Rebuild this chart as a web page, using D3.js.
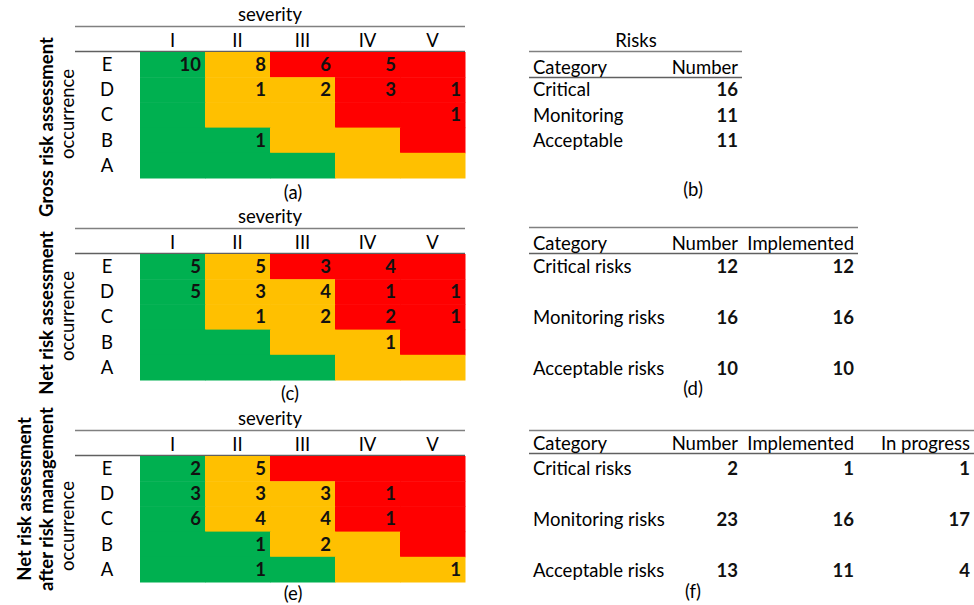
<!DOCTYPE html>
<html>
<head>
<meta charset="utf-8">
<script src="https://cdn.jsdelivr.net/npm/d3@7"></script>
<style>
  html, body { margin: 0; padding: 0; background: #fff; }
  svg { display: block; font-family: Lato, "Open Sans", sans-serif; }
</style>
</head>
<body>
<svg id="chart" width="974" height="605"></svg>
<script>
// Axis categories of the risk matrices
const severities = ["I", "II", "III", "IV", "V"];
const occurrences = ["E", "D", "C", "B", "A"];

// Risk zone of each matrix cell (rows E..A, columns I..V)
const zones = [
  ["acceptable", "monitoring", "critical",   "critical",   "critical"],
  ["acceptable", "monitoring", "monitoring", "critical",   "critical"],
  ["acceptable", "monitoring", "monitoring", "critical",   "critical"],
  ["acceptable", "acceptable", "monitoring", "monitoring", "critical"],
  ["acceptable", "acceptable", "acceptable", "monitoring", "monitoring"]
];

// Number of risks per cell (rows E..A, columns I..V)
const grossCounts = [
  [10, 8, 6, 5, null],
  [null, 1, 2, 3, 1],
  [null, null, null, null, 1],
  [null, 1, null, null, null],
  [null, null, null, null, null]
];
const netCounts = [
  [5, 5, 3, 4, null],
  [5, 3, 4, 1, 1],
  [null, 1, 2, 2, 1],
  [null, null, null, 1, null],
  [null, null, null, null, null]
];
const afterCounts = [
  [2, 5, null, null, null],
  [3, 3, 3, 1, null],
  [6, 4, 4, 1, null],
  [null, 1, 2, null, null],
  [null, 1, null, null, 1]
];

// Summary tables
const grossCategories = ["Critical", "Monitoring", "Acceptable"];
const grossNumber = [16, 11, 11];

const netCategories = ["Critical risks", "Monitoring risks", "Acceptable risks"];
const netNumber = [12, 16, 10];
const netImplemented = [12, 16, 10];

const afterCategories = ["Critical risks", "Monitoring risks", "Acceptable risks"];
const afterNumber = [2, 23, 13];
const afterImplemented = [1, 16, 11];
const afterInProgress = [1, 17, 4];

const zoneColor = d3.scaleOrdinal()
  .domain(["acceptable", "monitoring", "critical"])
  .range(["#00b050", "#ffc000", "#ff0000"]);

const svg = d3.select("#chart");
const FS = 18.5;
const ruleColor = "#808080";

const x = d3.scaleBand().domain(severities).range([140, 465]);

function drawMatrix(top, counts, caption, captionX, captionDy, titleLines, titleY, occY) {
  const y = d3.scaleBand().domain(occurrences).range([top, top + 126]);
  const g = svg.append("g");

  // header: "severity" title, rules and roman numerals
  g.append("text").attr("x", 270).attr("y", top - 37).attr("dy", "0.35em")
    .attr("text-anchor", "middle").attr("font-size", FS).text("severity");
  g.append("line").attr("x1", 75).attr("x2", 465)
    .attr("y1", top - 25.5).attr("y2", top - 25.5)
    .attr("stroke", ruleColor).attr("stroke-width", 1.5);
  g.selectAll(".sev").data(severities).join("text")
    .attr("x", d => x(d) + x.bandwidth() / 2).attr("y", top - 11).attr("dy", "0.35em")
    .attr("text-anchor", "middle").attr("font-size", FS).text(d => d);
  g.append("line").attr("x1", 75).attr("x2", 465)
    .attr("y1", top - 0.5).attr("y2", top - 0.5)
    .attr("stroke", "#606060").attr("stroke-width", 1.5);

  // row labels
  g.selectAll(".occ").data(occurrences).join("text")
    .attr("x", 107).attr("y", d => y(d) + y.bandwidth() / 2).attr("dy", "0.35em")
    .attr("text-anchor", "middle").attr("font-size", FS).text(d => d);

  // cells
  const cells = [];
  occurrences.forEach((o, i) => severities.forEach((s, j) => {
    cells.push({ o, s, zone: zones[i][j], value: counts[i][j] });
  }));
  g.selectAll("rect.cell").data(cells).join("rect")
    .attr("class", "cell")
    .attr("x", d => x(d.s)).attr("y", d => y(d.o))
    .attr("width", x.bandwidth() + 0.5).attr("height", y.bandwidth() + 0.5)
    .attr("fill", d => zoneColor(d.zone));
  g.selectAll("text.val").data(cells.filter(d => d.value != null)).join("text")
    .attr("class", "val")
    .attr("x", d => x(d.s) + x.bandwidth() - 4)
    .attr("y", d => y(d.o) + y.bandwidth() / 2).attr("dy", "0.35em")
    .attr("text-anchor", "end").attr("font-size", FS).attr("font-weight", "bold")
    .attr("fill", "#111").text(d => d.value);

  // vertical labels
  g.append("text")
    .attr("transform", `translate(68,${occY}) rotate(-90)`)
    .attr("dy", "0.35em").attr("text-anchor", "middle").attr("font-size", FS)
    .text("occurrence");
  const n = titleLines.length;
  titleLines.forEach((t, k) => {
    const tx = n === 1 ? 47 : 25 + k * 22;
    g.append("text")
      .attr("transform", `translate(${tx},${titleY}) rotate(-90)`)
      .attr("dy", "0.35em").attr("text-anchor", "middle")
      .attr("font-size", FS).attr("font-weight", "bold").text(t);
  });

  // caption
  g.append("text").attr("x", captionX).attr("y", top + 126 + captionDy).attr("dy", "0.35em")
    .attr("text-anchor", "middle").attr("font-size", FS).text(caption);
}

function drawTable(opts) {
  const g = svg.append("g");
  const { topRule, headRule, lineEnd, columns, categories, rowY0, rowStep, caption, captionY, title } = opts;
  if (title) {
    g.append("text").attr("x", 636).attr("y", topRule - 11).attr("dy", "0.35em")
      .attr("text-anchor", "middle").attr("font-size", FS).text(title);
  }
  g.append("line").attr("x1", 529).attr("x2", lineEnd).attr("y1", topRule).attr("y2", topRule)
    .attr("stroke", ruleColor).attr("stroke-width", 1.5);
  g.append("line").attr("x1", 529).attr("x2", lineEnd).attr("y1", headRule).attr("y2", headRule)
    .attr("stroke", "#606060").attr("stroke-width", 1.5);

  g.append("text").attr("x", 533).attr("y", headRule - 10).attr("dy", "0.35em")
    .attr("font-size", FS).text("Category");
  columns.forEach(c => {
    g.append("text").attr("x", c.right).attr("y", headRule - 10).attr("dy", "0.35em")
      .attr("text-anchor", "end").attr("font-size", FS).text(c.name);
  });

  const rowY = d3.scalePoint().domain(categories)
    .range([rowY0, rowY0 + rowStep * (categories.length - 1)]);
  g.selectAll(".cat").data(categories).join("text")
    .attr("x", 533).attr("y", d => rowY(d)).attr("dy", "0.35em")
    .attr("font-size", FS).text(d => d);
  columns.forEach(c => {
    g.selectAll(null).data(c.values).join("text")
      .attr("x", c.right).attr("y", (d, i) => rowY(categories[i])).attr("dy", "0.35em")
      .attr("text-anchor", "end").attr("font-size", FS).attr("font-weight", "bold")
      .attr("fill", "#111").text(d => d);
  });

  g.append("text").attr("x", 693).attr("y", captionY).attr("dy", "0.35em")
    .attr("text-anchor", "middle").attr("font-size", FS).text(caption);
}

// (a) gross risk assessment
drawMatrix(52, grossCounts, "(a)", 293, 15, ["Gross risk assessment"], 127, 114);
// (c) net risk assessment
drawMatrix(254, netCounts, "(c)", 290, 14, ["Net risk assessment"], 313, 316);
// (e) net risk assessment after risk management
drawMatrix(456, afterCounts, "(e)", 293, 12, ["Net risk assessment", "after risk management"], 499, 526);

// (b)
drawTable({
  title: "Risks", topRule: 51.5, headRule: 77.5, lineEnd: 742,
  columns: [{ name: "Number", right: 738, values: grossNumber }],
  categories: grossCategories, rowY0: 90, rowStep: 25.4,
  caption: "(b)", captionY: 190
});
// (d)
drawTable({
  topRule: 227.5, headRule: 253.5, lineEnd: 858,
  columns: [
    { name: "Number", right: 738, values: netNumber },
    { name: "Implemented", right: 854, values: netImplemented }
  ],
  categories: netCategories, rowY0: 267, rowStep: 50.6,
  caption: "(d)", captionY: 389
});
// (f)
drawTable({
  topRule: 430.5, headRule: 453.5, lineEnd: 974,
  columns: [
    { name: "Number", right: 738, values: afterNumber },
    { name: "Implemented", right: 854, values: afterImplemented },
    { name: "In progress", right: 970, values: afterInProgress }
  ],
  categories: afterCategories, rowY0: 469, rowStep: 50.6,
  caption: "(f)", captionY: 592
});
</script>
</body>
</html>
